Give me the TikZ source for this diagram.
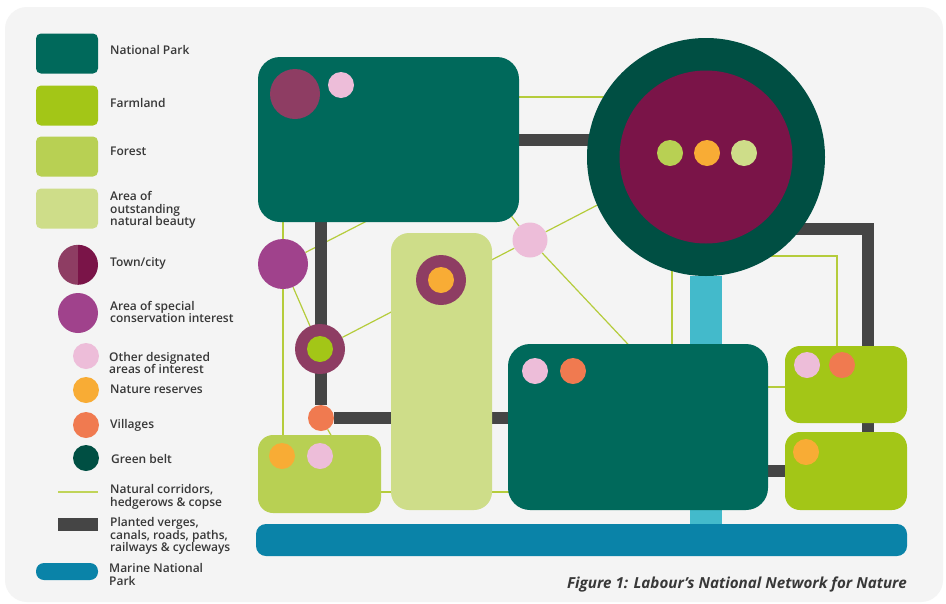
\documentclass[tikz,border=0pt]{standalone}
\usepackage{fontspec}
\setmainfont{Open Sans}
\IfFontExistsTF{Open Sans SemiBold}
  {\newfontfamily\legfont{Open Sans SemiBold}}
  {\IfFontExistsTF{Open Sans Semibold}
    {\newfontfamily\legfont{Open Sans Semibold}}
    {\newfontfamily\legfont{Open Sans}}}
\usetikzlibrary{calc}
\definecolor{bgc}{HTML}{F4F4F4}
\definecolor{npc}{HTML}{00695B}
\definecolor{farmc}{HTML}{A3C617}
\definecolor{forc}{HTML}{B8D053}
\definecolor{aonbc}{HTML}{CEDD89}
\definecolor{townl}{HTML}{8E3D63}
\definecolor{townr}{HTML}{7A1448}
\definecolor{specc}{HTML}{A0428C}
\definecolor{pinkc}{HTML}{EDBDD9}
\definecolor{orgc}{HTML}{F8AC35}
\definecolor{vilc}{HTML}{F07A50}
\definecolor{gbc}{HTML}{004F43}
\definecolor{roadc}{HTML}{454545}
\definecolor{corc}{HTML}{B5CC3B}
\definecolor{marc}{HTML}{0A83A8}
\definecolor{cyanc}{HTML}{43BACB}
\definecolor{txtc}{HTML}{383838}
\pgfdeclarelayer{bg}
\pgfdeclarelayer{lines}
\pgfsetlayers{bg,lines,main}
\begin{document}
\begin{tikzpicture}[x=1pt,y=-1pt,
  box/.style={rectangle, rounded corners=#1, inner sep=0pt, draw=none},
  blob/.style={circle, inner sep=0pt, draw=none, minimum size=#1},
  road/.style={draw=roadc, line width=12pt},
  corridor/.style={draw=corc, line width=1.2pt},
  lab/.style={anchor=west, inner sep=0pt, align=left, text=txtc,
    font=\legfont\fontsize{12}{12.5}\selectfont}]
\useasboundingbox (0,0) rectangle (946,603);
\begin{pgfonlayer}{bg}
  \fill[white] (0,0) rectangle (946,603);
  \fill[bgc, rounded corners=22pt] (5,7) rectangle (943,602);
\end{pgfonlayer}

% ---------- legend ----------
\node[box=5pt, fill=npc, minimum width=62pt, minimum height=40pt] (lnp) at (67,53.5) {};
\node[lab] (tnp) at (110,49.5) {National Park};
\node[box=5pt, fill=farmc, minimum width=62pt, minimum height=40pt] (lfarm) at (67,105.5) {};
\node[lab] (tfarm) at (110,102.5) {Farmland};
\node[box=5pt, fill=forc, minimum width=62pt, minimum height=40pt] (lfor) at (67,156.5) {};
\node[lab] (tfor) at (110,151) {Forest};
\node[box=5pt, fill=aonbc, minimum width=62pt, minimum height=40pt] (laonb) at (67,208.5) {};
\node[lab] (taonb) at (110,210) {Area of\\outstanding\\natural beauty};
\node[blob=40pt] (ltown) at (78,265) {};
\fill[townl] (ltown.north) arc (90:270:20pt) -- cycle;
\fill[townr] (ltown.north) arc (90:-90:20pt) -- cycle;
\node[lab] (ttown) at (110,263) {Town/city};
\node[blob=40pt, fill=specc] (lspec) at (78,313) {};
\node[lab] (tspec) at (110,312) {Area of special\\conservation interest};
\node[blob=26pt, fill=pinkc] (lpink) at (86,356) {};
\node[lab] (tpink) at (109,363) {Other designated\\areas of interest};
\node[blob=26pt, fill=orgc] (lorg) at (86,390) {};
\node[lab] (torg) at (110,389.5) {Nature reserves};
\node[blob=26pt, fill=vilc] (lvil) at (86,425) {};
\node[lab] (tvil) at (110,425) {Villages};
\node[blob=26pt, fill=gbc] (lgb) at (86,458) {};
\node[lab] (tgb) at (111,458.5) {Green belt};
\coordinate (lc1) at (58,492);
\coordinate (lc2) at (98,492);
\draw[draw=corc!85!white, line width=1.8pt] (lc1) -- (lc2);
\node[lab] (tcor) at (110,497) {Natural corridors,\\hedgerows \& copse};
\node[rectangle, inner sep=0pt, fill=roadc, minimum width=40pt, minimum height=13pt] (lroad) at (78,524.5) {};
\node[lab] (troad) at (110,536) {Planted verges,\\canals, roads, paths,\\railways \& cycleways};
\node[box=8pt, fill=marc, minimum width=62pt, minimum height=17pt] (lmar) at (67,571.5) {};
\node[lab] (tmar) at (109,574.5) {Marine National\\Park};

% ---------- main diagram: boxes ----------
\node[box=22pt, fill=npc, minimum width=261pt, minimum height=165pt] (np1) at (388.5,139.5) {};
\node[box=18pt, fill=aonbc, minimum width=101pt, minimum height=277pt] (aonb) at (441.5,371.5) {};
\node[box=15pt, fill=forc, minimum width=123pt, minimum height=78pt] (forest) at (319.5,474) {};
\node[box=22pt, fill=npc, minimum width=260pt, minimum height=166pt] (np2) at (638,427) {};
\node[box=15pt, fill=farmc, minimum width=122pt, minimum height=77pt] (farm1) at (846,384.5) {};
\node[box=15pt, fill=farmc, minimum width=122pt, minimum height=78pt] (farm2) at (846,471) {};
\node[box=10pt, fill=marc, minimum width=651pt, minimum height=32pt] (marine) at (581.5,540) {};

% green belt with city
\node[blob=238pt, fill=gbc] (gb) at (706,157) {};
\node[blob=173pt, fill=townr] (city) at (706,157) {};
\node[blob=26pt, fill=forc] (d1) at (670,153) {};
\node[blob=26pt, fill=orgc] (d2) at (707,153) {};
\node[blob=26pt, fill=aonbc] (d3) at (744,153) {};

% circles
\node[blob=50pt, fill=townl] (t1) at (295,94) {};
\node[blob=26pt, fill=pinkc] (p1) at (341,85) {};
\node[blob=50pt, fill=specc] (sc) at (283,264) {};
\node[blob=50pt, fill=townl] (tr1) at (320,349) {};
\node[blob=26pt, fill=farmc] (tr1in) at (320,349) {};
\node[blob=26pt, fill=vilc] (v1) at (321,418) {};
\node[blob=50pt, fill=townl] (tr2) at (441,280) {};
\node[blob=26pt, fill=orgc] (tr2in) at (441,280) {};
\node[blob=35pt, fill=pinkc] (pk) at (530,240) {};
\node[blob=26pt, fill=orgc] (f1) at (282,456) {};
\node[blob=26pt, fill=pinkc] (f2) at (320,456) {};
\node[blob=26pt, fill=pinkc] (n1) at (535,371) {};
\node[blob=26pt, fill=vilc] (n2) at (573,371) {};
\node[blob=26pt, fill=pinkc] (a1) at (807,365) {};
\node[blob=26pt, fill=vilc] (a2) at (842,365) {};
\node[blob=26pt, fill=orgc] (b1) at (806,452) {};

% ---------- connectors ----------
\coordinate (rb) at (867.5,228.5);
\coordinate (h1) at (560,97);
\coordinate (h2) at (450,492);
\coordinate (h3) at (776,387);
\coordinate (bk) at (837,256);
\coordinate (vg) at (672,250);
\coordinate (pkup) at ($(pk)+(-36,-46)$);
\coordinate (pkdn) at ($(pk)+(110,117)$);
\coordinate (pkgb) at ($(tr1)!1.45!(pk)$);
\coordinate (scup) at ($(sc)+(117,-60)$);
\coordinate (vdn) at ($(v1)+(14,24)$);
\begin{pgfonlayer}{lines}
  % natural corridors
  \draw[corridor] (h1 -| np1) -- (h1 -| gb);
  \draw[corridor] (tr1) -- (pk) -- (pkgb);
  \draw[corridor] (pk) -- (pkup);
  \draw[corridor] (pk) -- (pkdn);
  \draw[corridor] (sc) -- (scup);
  \draw[corridor] (sc) -- (tr1);
  \draw[corridor] (sc |- np1) -- (sc |- forest);
  \draw[corridor] (v1) -- (vdn);
  \draw[corridor] (h2 -| forest) -- (h2 -| np2);
  \draw[corridor] (vg) -- (vg |- np2);
  \draw[corridor] (gb |- bk) -- (bk) -- (bk |- farm1);
  \draw[corridor] (h3 -| np2) -- (h3 -| farm1);
  % marine link
  \draw[draw=cyanc, line width=32pt] (gb) -- (gb |- marine);
  % planted verges / roads
  \draw[road] (np1) -- (np1 -| gb);
  \draw[road] (v1 |- np1) -- (v1) -- (v1 -| np2);
  \draw[road, miter limit=4] (gb |- rb) -- (rb) -- (rb |- farm2);
  \draw[road] (farm2 -| np2) -- (farm2);
\end{pgfonlayer}

% caption
\node[anchor=base east, inner sep=0pt, text=txtc,
  font=\bfseries\itshape\fontsize{15.2}{18}\selectfont] (cap) at (907,588)
  {Figure 1: Labour’s National Network for Nature};
\end{tikzpicture}
\end{document}
